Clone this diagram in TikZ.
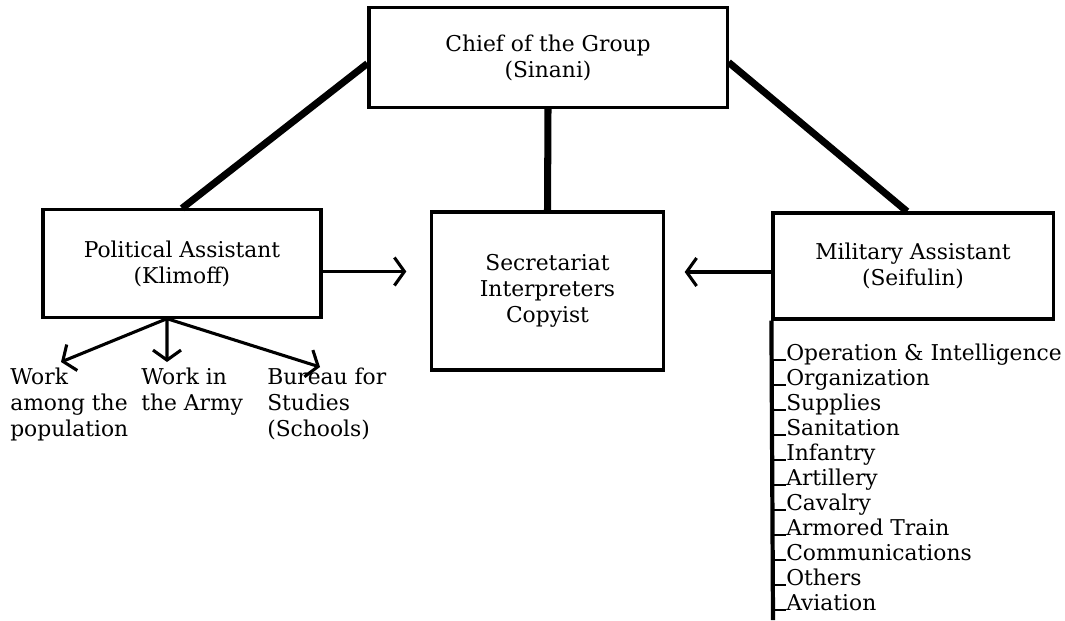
\documentclass[tikz,border=0pt]{standalone}
\usepackage{fontspec}
\setmainfont{DejaVu Serif}
\usepackage{tikz}
\usetikzlibrary{arrows.meta, positioning}
\newcommand{\orgfont}{\fontsize{15.5}{18.5}\selectfont}
\tikzset{>={Straight Barb[length=2.5mm,width=7mm]}}
\tikzset{
  box/.style={draw, line width=2.2pt, align=center, font=\orgfont, inner sep=0pt},
  lbl/.style={align=left, font=\orgfont, inner sep=0pt},
  link/.style={line width=5pt},
  feed/.style={line width=2.2pt, ->},
  tick/.style={line width=1.6pt},
  spine/.style={line width=3pt}
}

\begin{document}
\begin{tikzpicture}[x=0.025cm, y=-0.025cm]
            \useasboundingbox (0,0) rectangle (1065,620);
            \node[box, minimum width=8.95cm, minimum height=2.48cm] (chief) at (548,57.5) {Chief of the Group\\(Sinani)};
            \node[box, minimum width=6.95cm, minimum height=2.68cm] (pol) at (182,263.5) {Political Assistant\\(Klimoff)};
            \node[box, minimum width=5.78cm, minimum height=3.95cm] (sec) at (547.5,291) {Secretariat\\Interpreters\\Copyist};
            \node[box, minimum width=7cm, minimum height=2.65cm] (mil) at (913,266) {Military Assistant\\(Seifulin)};
            \draw[link] ([yshift=-1.5mm]chief.west) -- (pol.north);
            \draw[link] ([yshift=-1.2mm]chief.east) -- ([xshift=-1.5mm]mil.north);
            \draw[link] (chief.south) -- (sec.north);
            \draw[feed, shorten >=6mm] ([yshift=-2mm]pol.east) -- ([yshift=-2mm]pol.east -| sec.west);
            \draw[feed, shorten >=5mm] ([yshift=-1.5mm]mil.west) -- ([yshift=-1.5mm]mil.west -| sec.east);
            \node[lbl, anchor=north west] (popwork) at (10,368) {Work\\among the\\population};
            \node[lbl, anchor=north west] (armywork) at (141,368) {Work in\\the Army};
            \node[lbl, anchor=north west] (bureau) at (267,368) {Bureau for\\Studies\\(Schools)};
            \coordinate (fork) at ([xshift=-3.75mm]pol.south);
            \coordinate (tipA) at (61,362);
            \coordinate (tipB) at (167,362);
            \coordinate (tipC) at (320,367);
            \foreach \t in {tipA, tipB, tipC}
                \draw[feed] (fork) -- (\t);
            \coordinate (spineend) at (773,620);
            \draw[spine] (mil.south west) -- (spineend);
            \foreach \name [count=\i] in {Operation \& Intelligence, Organization, Supplies, Sanitation, Infantry, Artillery, Cavalry, Armored Train, Communications, Others, Aviation} {
                \node[lbl, anchor=base west] (branch\i) at (786,{360+25*(\i-1)}) {\name};
                \draw[tick] (mil.south west |- branch\i.base) -- (branch\i.base west);
            }
        \end{tikzpicture}
\end{document}
